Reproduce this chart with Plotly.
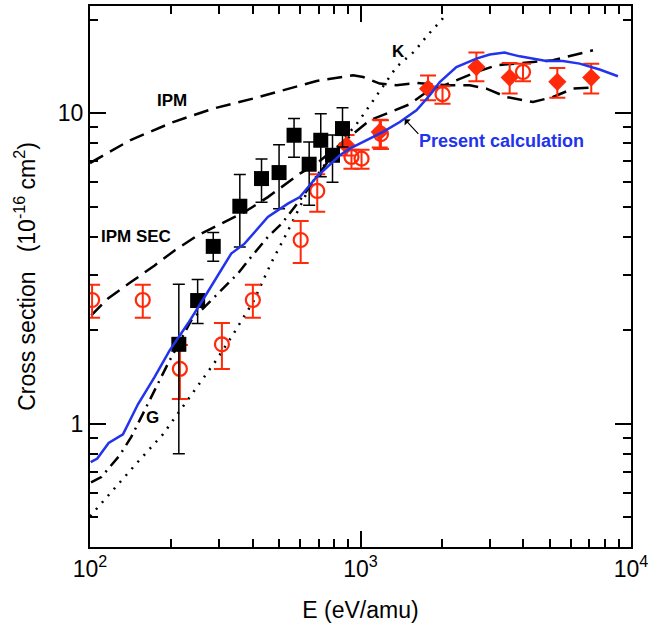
import plotly.graph_objects as go

FONT = "Liberation Sans, Arial, Helvetica, sans-serif"
RED = "#ff2a0a"
BLUE = "#2233ee"

# ---- Theory curves ----
calc_E = [100.6, 106.4, 117.2, 132.4, 150.4, 173.4, 197.0, 230.1, 265.3, 332.7, 372.8, 454.5,
          538.8, 596.8, 688, 838.3, 913, 1052, 1212, 1397, 1610, 1803, 1963, 2262, 2682,
          3003, 3412, 3877, 4864, 5602, 6457, 7656, 8947]
calc_S = [0.752, 0.772, 0.866, 0.924, 1.154, 1.413, 1.722, 2.099, 2.556, 3.526, 3.797, 4.626,
          5.108, 5.364, 6.22, 7.31, 7.68, 8.17, 8.69, 9.35, 10.2, 11.4, 12.58, 14.06, 14.96,
          15.42, 15.65, 15.22, 14.70, 14.70, 14.42, 13.8, 13.13]

ipm_E = [100, 140.6, 203, 285, 401, 518, 688, 939, 1022, 1178, 1358, 1610, 2078, 2534, 2921,
         3462, 4342, 5147, 6101, 7031]
ipm_S = [6.90, 8.17, 9.35, 10.33, 11.13, 11.83, 12.68, 13.22, 13.06, 12.44, 12.28, 12.49,
         12.28, 12.28, 11.98, 11.26, 10.85, 11.26, 11.98, 12.07]

sec_E = [101.1, 116.6, 142.1, 173.4, 205.5, 250.6, 305.5, 372.8, 454.5, 524, 597, 688, 792,
         913, 1082, 1283, 1521, 1728, 1963, 2262, 2682, 3180, 3662, 4342, 5147, 6101, 7233]
sec_S = [2.23, 2.53, 2.86, 3.23, 3.61, 4.04, 4.40, 4.80, 5.36, 5.85, 6.38, 6.87, 7.59, 8.41,
         9.47, 10.05, 10.67, 11.57, 12.10, 12.75, 13.55, 14.24, 14.43, 14.60, 14.78, 15.34, 15.92]

g_E = [100.9, 110.1, 128.8, 142.1, 157, 173.4, 194.2, 236.7, 265.3, 305.5, 352.1, 394.3,
       454.5, 510.8, 597, 695.6, 803.5, 913]
g_S = [0.647, 0.673, 0.791, 0.906, 1.077, 1.28, 1.56, 2.15, 2.37, 2.69, 3.04, 3.44, 3.99,
       4.40, 5.24, 6.30, 7.47, 8.41]

k_E = [100, 118.3, 148.3, 186.1, 240.2, 292.8, 334.6, 403.5, 469.1, 532.9, 613.8, 659.2,
       803.5, 979.7, 1196, 1358, 1587, 1768, 1992, 2066]
k_S = [0.503, 0.595, 0.743, 0.924, 1.254, 1.599, 1.91, 2.49, 3.31, 4.09, 5.24, 5.93, 7.59,
       9.35, 11.98, 14.07, 15.83, 17.79, 19.89, 20.9]

# ---- Experimental data ----
sq_E = [213, 250, 285.5, 358, 430.6, 500, 568, 646, 713, 788, 858]
sq_S = [1.80, 2.49, 3.72, 5.01, 6.15, 6.43, 8.48, 6.84, 8.17, 7.31, 8.91]
sq_hi = [2.81, 2.91, 4.12, 6.34, 7.11, 7.91, 9.6, 8.07, 9.95, 8.5, 10.4]
sq_lo = [0.80, 2.10, 3.33, 3.70, 5.16, 4.92, 7.21, 5.05, 6.23, 5.99, 7.77]

oc_E = [101.8, 156.7, 214.9, 307.4, 400, 601, 692, 926, 1009, 1190, 2010, 3988]
oc_S = [2.50, 2.50, 1.50, 1.80, 2.50, 3.90, 5.61, 7.22, 7.13, 8.55, 11.5, 13.55]
oc_hi = [2.80, 2.80, 1.79, 2.11, 2.80, 4.49, 6.35, 7.62, 7.62, 9.48, 12.2, 14.4]
oc_lo = [2.19, 2.19, 1.20, 1.50, 2.19, 3.29, 4.81, 6.62, 6.62, 7.66, 10.7, 12.65]

dm_E = [888, 1178, 1777, 2682, 3560, 5342, 7129]
dm_S = [7.87, 8.69, 11.98, 14.06, 13.0, 12.6, 13.0]
dm_hi = [8.5, 9.52, 13.2, 15.65, 14.5, 13.96, 14.4]
dm_lo = [7.3, 7.74, 11.0, 12.65, 11.55, 11.2, 11.55]

x_major = [100, 1000, 10000]
x_major_text = ["10<sup>2</sup>", "10<sup>3</sup>", "10<sup>4</sup>"]
y_major = [1, 10]
y_major_text = ["1", "10"]


def err(v, hi, lo):
    return dict(type="data", symmetric=False,
                array=[h - a for a, h in zip(v, hi)],
                arrayminus=[a - l for a, l in zip(v, lo)])


fig = go.Figure()

fig.add_trace(go.Scatter(x=ipm_E, y=ipm_S, mode="lines",
                         line=dict(color="black", width=2.5, dash="15px,8px")))
fig.add_trace(go.Scatter(x=sec_E, y=sec_S, mode="lines",
                         line=dict(color="black", width=2.5, dash="15px,8px")))
fig.add_trace(go.Scatter(x=g_E, y=g_S, mode="lines",
                         line=dict(color="black", width=2.5, dash="12px,6px,2px,6px")))
fig.add_trace(go.Scatter(x=k_E, y=k_S, mode="lines",
                         line=dict(color="black", width=2.5, dash="2px,7px")))

fig.add_trace(go.Scatter(x=oc_E, y=oc_S, mode="markers",
                         marker=dict(symbol="circle-open", size=14, color=RED,
                                     line=dict(width=2.2, color=RED)),
                         error_y=dict(err(oc_S, oc_hi, oc_lo), color=RED, thickness=2, width=8)))
fig.add_trace(go.Scatter(x=dm_E, y=dm_S, mode="markers",
                         marker=dict(symbol="diamond", size=14, color=RED),
                         error_y=dict(err(dm_S, dm_hi, dm_lo), color=RED, thickness=2, width=8)))
fig.add_trace(go.Scatter(x=sq_E, y=sq_S, mode="markers",
                         marker=dict(symbol="square", size=15, color="black"),
                         error_y=dict(err(sq_S, sq_hi, sq_lo), color="black", thickness=1.5, width=6)))
fig.add_trace(go.Scatter(x=calc_E, y=calc_S, mode="lines",
                         line=dict(color=BLUE, width=2.5)))

lab = dict(font=dict(family=FONT, size=17, color="black"), showarrow=False,
           xref="x", yref="y")
fig.add_annotation(x=2.3029, y=1.0393, text="<b>IPM</b>", **lab)
fig.add_annotation(x=2.17, y=0.603, text="<b>IPM SEC</b>", **lab)
fig.add_annotation(x=3.1415, y=1.1987, text="<b>K</b>", **lab)
fig.add_annotation(x=2.2327, y=0.0203, text="<b>G</b>", **lab)
fig.add_annotation(x=3.522, y=0.9089, text="<b>Present calculation</b>", showarrow=False,
                   xref="x", yref="y", font=dict(family=FONT, size=18, color=BLUE))
fig.add_annotation(x=3.1636, y=0.9797, ax=15, ay=16, text="", showarrow=True,
                   arrowhead=1, arrowsize=1.2, arrowwidth=1.2, arrowcolor="black",
                   xref="x", yref="y")

x_minor = [v * m for v in (100, 1000) for m in range(2, 10)]
y_minor = [0.4, 0.5, 0.6, 0.7, 0.8, 0.9, 2, 3, 4, 5, 6, 7, 8, 9, 20]

axis_common = dict(showgrid=False, zeroline=False, showline=True, linecolor="black",
                   linewidth=2, mirror="ticks", ticks="inside", ticklen=16, tickwidth=1.5,
                   tickcolor="black", automargin=False,
                   tickfont=dict(family=FONT, size=23, color="black"))

fig.update_xaxes(type="log", range=[2, 4], tickmode="array", tickvals=x_major,
                 ticktext=x_major_text,
                 minor=dict(tickmode="array", tickvals=x_minor, ticks="inside", ticklen=8,
                            tickwidth=1.5, tickcolor="black", showgrid=False),
                 title=dict(text="E (eV/amu)", font=dict(family=FONT, size=23, color="black"),
                            standoff=21),
                 **axis_common)
fig.update_yaxes(type="log", range=[-0.3973, 1.3445], tickmode="array", tickvals=y_major,
                 ticktext=y_major_text,
                 minor=dict(tickmode="array", tickvals=y_minor, ticks="inside", ticklen=8,
                            tickwidth=1.5, tickcolor="black", showgrid=False),
                 title=dict(text="Cross section   (10<sup>-16</sup> cm<sup>2</sup>)",
                            font=dict(family=FONT, size=23, color="black"), standoff=16),
                 **axis_common)

fig.update_layout(width=649, height=628, showlegend=False,
                  margin=dict(l=90, r=18, t=6, b=81),
                  paper_bgcolor="white", plot_bgcolor="white")

fig.write_html("out.html", config={"displayModeBar": False},
               post_script="document.body.style.margin='0';document.body.style.padding='0';")
